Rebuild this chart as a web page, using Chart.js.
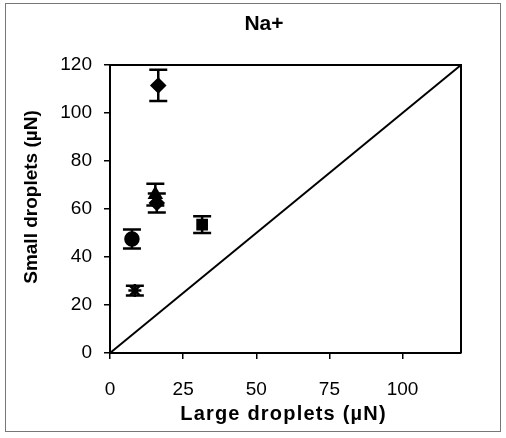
<!DOCTYPE html>
<html>
<head>
<meta charset="utf-8">
<script src="https://cdn.jsdelivr.net/npm/chart.js@4.4.1/dist/chart.umd.min.js"></script>
<style>
  html, body { margin: 0; padding: 0; background: #fff; }
  #wrap { width: 506px; height: 438px; }
</style>
</head>
<body>
<div id="wrap"><canvas id="chart" width="506" height="438"></canvas></div>
<script>
// ===== Data =====
const largeDroplets = [16.5, 15.5, 16, 31.5, 7.5, 8.5];      // x (µN)
const smallDroplets = [111.5, 66, 62.5, 53.5, 47.5, 26];     // y (µN)
const smallErrors   = [6.5, 4.5, 4, 3.5, 4, 2];              // ± on y
const markerStyles  = ['rectRot', 'triangle', 'rectRot', 'rect', 'circle', 'star'];
const parityLine    = [0, 120];                               // y = x
const xTickValues   = [0, 25, 50, 75, 100];
const yTickValues   = [0, 20, 40, 60, 80, 100, 120];
const chartTitle = 'Na+';
const xTitle = 'Large droplets (µN)';
const yTitle = 'Small droplets (µN)';

const FONT = "Arial, 'Liberation Sans', sans-serif";

/**
 * Vertical error bars with caps, drawn through the chart scales
 */
const errorBarPlugin = {
    id: 'errorBars',
    afterDatasetsDraw(chart) {
        const { ctx, scales: { x, y } } = chart;
        ctx.save();
        ctx.strokeStyle = '#000';
        ctx.lineWidth = 2.5;
        largeDroplets.forEach((xv, i) => {
            const px = x.getPixelForValue(xv);
            const top = y.getPixelForValue(smallDroplets[i] + smallErrors[i]);
            const bot = y.getPixelForValue(smallDroplets[i] - smallErrors[i]);
            ctx.beginPath();
            ctx.moveTo(px, top); ctx.lineTo(px, bot);
            ctx.moveTo(px - 9, top); ctx.lineTo(px + 9, top);
            ctx.moveTo(px - 9, bot); ctx.lineTo(px + 9, bot);
            ctx.stroke();
        });
        ctx.restore();
    }
};

/**
 * Plot box (top/right edges), outer frame, chart and axis titles
 */
const framePlugin = {
    id: 'frames',
    beforeDraw(chart) {
        const { ctx } = chart;
        ctx.save();
        ctx.fillStyle = '#fff';
        ctx.fillRect(0, 0, chart.width, chart.height);
        ctx.restore();
    },
    afterDraw(chart) {
        const { ctx, chartArea: a } = chart;
        ctx.save();
        ctx.strokeStyle = '#000';
        ctx.lineWidth = 2;
        ctx.beginPath();
        ctx.moveTo(a.left, a.top);
        ctx.lineTo(a.right, a.top);
        ctx.lineTo(a.right, a.bottom);
        ctx.stroke();
        ctx.strokeStyle = '#777';
        ctx.lineWidth = 1;
        ctx.strokeRect(5.5, 3.5, 495, 428);

        ctx.fillStyle = '#000';
        ctx.textAlign = 'center';
        ctx.textBaseline = 'middle';
        ctx.font = 'bold 21px ' + FONT;
        ctx.fillText(chartTitle, 264, 24);

        // axis titles (the scan is a bit wider horizontally, hence the spacing)
        ctx.font = 'bold 20px ' + FONT;
        ctx.letterSpacing = '1.2px';
        ctx.fillText(xTitle, (a.left + a.right) / 2 - 2, 414);
        ctx.letterSpacing = '0px';
        ctx.font = 'bold 19px ' + FONT;
        ctx.translate(32, 197);
        ctx.rotate(-Math.PI / 2);
        ctx.fillText(yTitle, 0, 0);
        ctx.restore();
    }
};

new Chart(document.getElementById('chart'), {
    type: 'scatter',
    data: {
        datasets: [
            {
                label: 'Na+',
                data: largeDroplets.map((xv, i) => ({ x: xv, y: smallDroplets[i] })),
                pointStyle: markerStyles,
                pointRadius: 6.5,
                backgroundColor: '#000',
                borderColor: '#000',
                borderWidth: 2.5
            },
            {
                type: 'line',
                label: 'y = x',
                data: parityLine.map(v => ({ x: v, y: v })),
                borderColor: '#000',
                borderWidth: 2,
                pointRadius: 0,
                fill: false
            }
        ]
    },
    options: {
        responsive: false,
        animation: false,
        layout: { padding: { left: 0, right: 45, top: 65, bottom: 0 } },
        plugins: {
            legend: { display: false },
            tooltip: { enabled: false },
            title: { display: false }
        },
        scales: {
            x: {
                type: 'linear',
                min: 0,
                max: 120,
                afterBuildTicks: s => { s.ticks = xTickValues.map(v => ({ value: v })); },
                afterFit: s => { s.height = 85; },
                ticks: { color: '#000', padding: 19, font: { family: FONT, size: 19 } },
                grid: { drawOnChartArea: false, drawTicks: true, tickLength: 6, color: '#000', lineWidth: 1.5 },
                border: { color: '#000', width: 2 }
            },
            y: {
                type: 'linear',
                min: 0,
                max: 120,
                afterBuildTicks: s => { s.ticks = yTickValues.map(v => ({ value: v })); },
                afterFit: s => { s.width = 110; },
                ticks: { color: '#000', padding: 12, font: { family: FONT, size: 19 } },
                grid: { drawOnChartArea: false, drawTicks: true, tickLength: 6, color: '#000', lineWidth: 1.5 },
                border: { color: '#000', width: 2 }
            }
        }
    },
    plugins: [errorBarPlugin, framePlugin]
});
</script>
</body>
</html>
